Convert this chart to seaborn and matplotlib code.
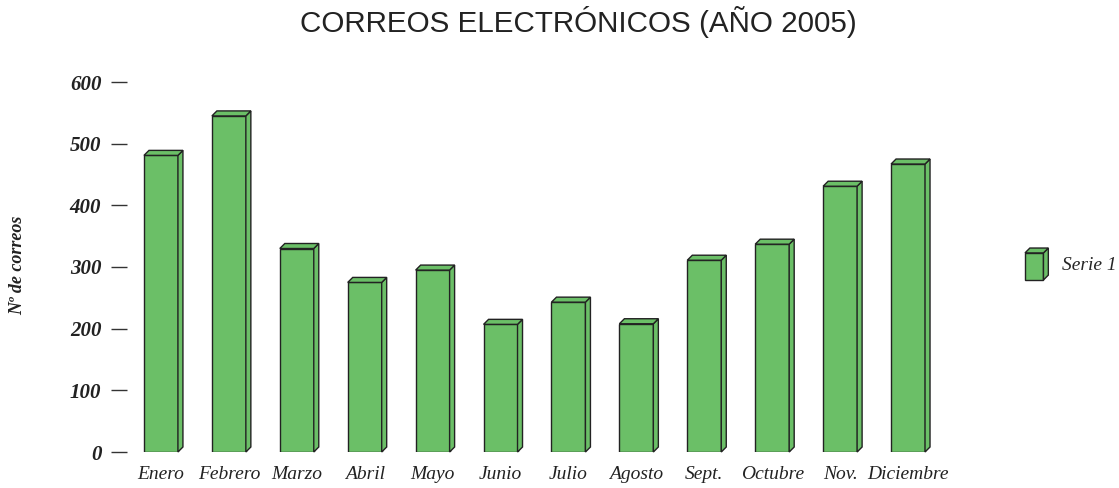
import matplotlib
matplotlib.use("Agg")
import matplotlib.pyplot as plt
import seaborn as sns
import pandas as pd
from matplotlib.patches import Polygon, Rectangle
from matplotlib.transforms import IdentityTransform
from matplotlib.legend_handler import HandlerBase

# datos
meses = ["Enero", "Febrero", "Marzo", "Abril", "Mayo", "Junio", "Julio",
         "Agosto", "Sept.", "Octubre", "Nov.", "Diciembre"]
correos = [481, 545, 330, 275, 295, 207, 243, 208, 311, 337, 431, 467]
serie = "Serie 1"
yticks = [0, 100, 200, 300, 400, 500, 600]

VERDE = "#6bbf67"
BORDE = "#222222"
DEPTH = 5  # px del efecto 3D

sns.set_theme(style="white")
plt.rcParams["font.family"] = ["Liberation Serif", "DejaVu Serif"]

df = pd.DataFrame({"mes": meses, "correos": correos})

fig = plt.figure(figsize=(11.19, 4.88), dpi=100)
ax = fig.add_axes([127 / 1119, 36 / 488, 815 / 1119, 370 / 488])
sns.barplot(data=df, x="mes", y="correos", color=VERDE, saturation=1,
            width=0.5, edgecolor=BORDE, linewidth=1.0, ax=ax, zorder=3)
ax.set_xlim(-0.5, len(meses) - 0.5)
ax.set_ylim(0, 600)
ax.set_yticks(yticks)
for s in ax.spines.values():
    s.set_visible(False)
ax.set_xlabel(""); ax.set_ylabel("")
ax.tick_params(axis="y", left=True, length=11.5, width=1, color="#333333",
               pad=7, labelsize=15)
ax.tick_params(axis="x", bottom=False, length=0, pad=10, labelsize=14)
for t in ax.get_yticklabels():
    t.set_fontstyle("italic"); t.set_fontweight("bold"); t.set_color("#222222")
for t in ax.get_xticklabels():
    t.set_fontstyle("italic"); t.set_color("#222222")

# caras laterales y superiores (efecto 3D)
for p in list(ax.patches):
    x0, w, h = p.get_x(), p.get_width(), p.get_height()
    (ax_, ay0), (bx, by) = ax.transData.transform([(x0, 0), (x0 + w, h)])
    side = [(bx, ay0), (bx, by), (bx + DEPTH, by + DEPTH), (bx + DEPTH, ay0 + DEPTH)]
    top = [(ax_, by), (bx, by), (bx + DEPTH, by + DEPTH), (ax_ + DEPTH, by + DEPTH)]
    for pts in (side, top):
        fig.add_artist(Polygon(pts, closed=True, facecolor=VERDE, edgecolor=BORDE,
                               linewidth=1.0, transform=IdentityTransform(), zorder=4))


class Handler3D(HandlerBase):
    def create_artists(self, legend, orig_handle, xd, yd, width, height, fontsize, trans):
        d = 3.5
        w = width - d
        hh = height - d
        x0, y0 = -xd, -yd
        kw = dict(facecolor=VERDE, edgecolor=BORDE, lw=1.0, transform=trans)
        front = Rectangle((x0, y0), w, hh, **kw)
        side = Polygon([(x0 + w, y0), (x0 + w, y0 + hh), (x0 + w + d, y0 + hh + d),
                        (x0 + w + d, y0 + d)], **kw)
        top = Polygon([(x0, y0 + hh), (x0 + w, y0 + hh), (x0 + w + d, y0 + hh + d),
                       (x0 + d, y0 + hh + d)], **kw)
        return [front, side, top]


handle = Rectangle((0, 0), 1, 1, facecolor=VERDE)
leg = fig.legend([handle], [serie], handler_map={Rectangle: Handler3D()},
                 loc="center left", bbox_to_anchor=(1025 / 1119, 1 - 264 / 488),
                 frameon=False, prop={"size": 14, "style": "italic"},
                 borderpad=0, borderaxespad=0,
                 handlelength=1.2, handleheight=2.15, handletextpad=0.7)

fig.text(578 / 1119, 1 - 22 / 488, "CORREOS ELECTRÓNICOS (AÑO 2005)",
         ha="center", va="center", fontsize=21.3, color="#222222",
         family=["Liberation Sans", "DejaVu Sans"])
fig.text(18 / 1119, 1 - 265 / 488, "Nº de correos", rotation=90, ha="center",
         va="center", fontsize=13, fontstyle="italic", fontweight="bold",
         color="#222222")

fig.savefig("out.png", dpi=100)
